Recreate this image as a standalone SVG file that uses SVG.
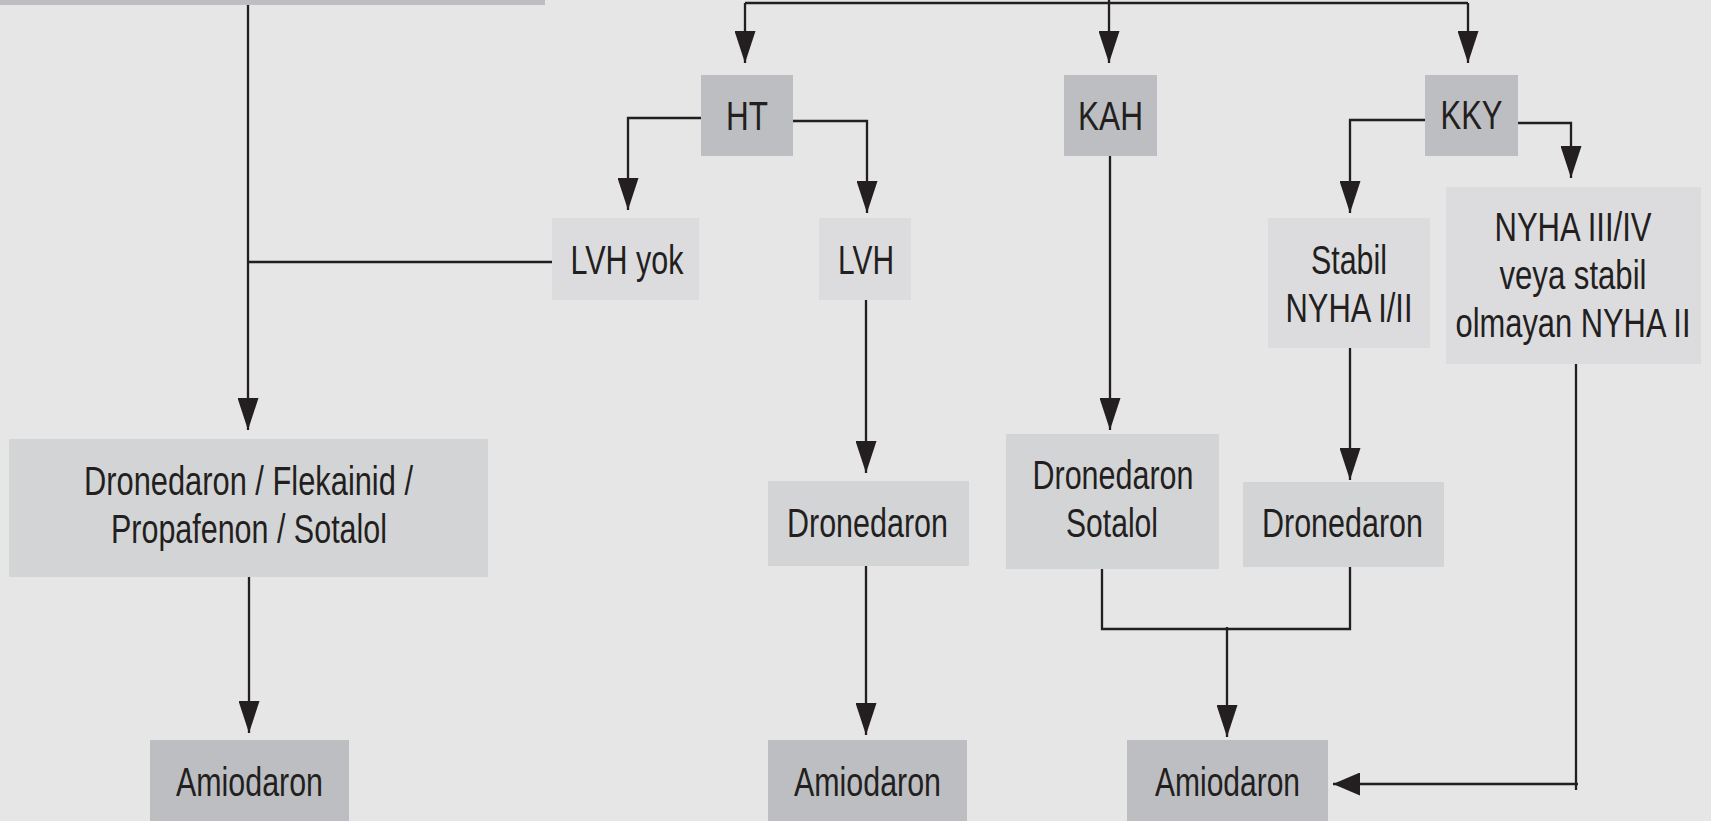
<svg xmlns="http://www.w3.org/2000/svg" width="1711" height="821" viewBox="0 0 1711 821">
<defs>
<style>
.dk{fill:#bdbec1}
.lt{fill:#dcdcde}
.md{fill:#d3d4d6}
.t{font-family:"Liberation Sans Narrow","Liberation Sans",Arial,sans-serif;font-size:40px;fill:#231f20;text-anchor:middle}
.c{fill:none;stroke:#231f20;stroke-width:2.3}
.ar{marker-end:url(#a)}
</style>
<marker id="a" markerUnits="userSpaceOnUse" viewBox="0 0 32 21" markerWidth="32" markerHeight="21" refX="32" refY="10.5" orient="auto">
<path d="M0,0 L32,10.5 L0,21 Z" fill="#231f20"/>
</marker>
<marker id="b" markerUnits="userSpaceOnUse" viewBox="0 0 27 23" markerWidth="27" markerHeight="23" refX="27" refY="11.5" orient="auto">
<path d="M0,0 L27,11.5 L0,23 Z" fill="#231f20"/>
</marker>
</defs>
<rect width="1711" height="821" fill="#e6e6e6"/>
<g id="connectors">
<path class="c ar" d="M248,5 V430"/>
<path class="c" d="M552,262 H248"/>
<path class="c" d="M745,3 H1468"/>
<path class="c ar" d="M745,3 V63"/>
<path class="c ar" d="M1109,0 V63"/>
<path class="c ar" d="M1468,3 V63"/>
<path class="c ar" d="M701,118 H628 V210"/>
<path class="c ar" d="M791,121 H867 V213"/>
<path class="c ar" d="M866,300 V473"/>
<path class="c ar" d="M866,566 V735"/>
<path class="c ar" d="M1110,156 V430"/>
<path class="c ar" d="M1425,120 H1350 V213"/>
<path class="c ar" d="M1518,123 H1571 V178"/>
<path class="c ar" d="M1350,348 V480"/>
<path class="c" d="M1102,564 V629 H1350 V567"/>
<path class="c ar" d="M1227,627 V737"/>
<path class="c" d="M1576,364 V790"/>
<path class="c" style="marker-end:url(#b)" d="M1578,784 H1333"/>
<path class="c ar" d="M249,577 V733"/>
</g>
<g id="n-top"><rect class="dk" x="0" y="-10" width="545" height="15"/></g>
<g id="n-ht"><rect class="dk" x="701" y="75" width="92" height="81"/><text class="t" x="747" y="130" textLength="42" lengthAdjust="spacingAndGlyphs">HT</text></g>
<g id="n-kah"><rect class="dk" x="1064" y="75" width="93" height="81"/><text class="t" x="1110.5" y="130" textLength="65" lengthAdjust="spacingAndGlyphs">KAH</text></g>
<g id="n-kky"><rect class="dk" x="1425" y="75" width="93" height="81"/><text class="t" x="1471.5" y="129" textLength="62" lengthAdjust="spacingAndGlyphs">KKY</text></g>
<g id="n-lvhyok"><rect class="lt" x="552" y="218" width="147" height="82"/><text class="t" x="627" y="274" textLength="113" lengthAdjust="spacingAndGlyphs">LVH yok</text></g>
<g id="n-lvh"><rect class="lt" x="819" y="218" width="92" height="82"/><text class="t" x="866" y="274" textLength="56" lengthAdjust="spacingAndGlyphs">LVH</text></g>
<g id="n-stabil"><rect class="lt" x="1268" y="218" width="162" height="130"/><text class="t" x="1349" y="274" textLength="76" lengthAdjust="spacingAndGlyphs">Stabil</text><text class="t" x="1349" y="322" textLength="127" lengthAdjust="spacingAndGlyphs">NYHA I/II</text></g>
<g id="n-nyha"><rect class="lt" x="1446" y="187" width="255" height="177"/><text class="t" x="1573" y="241" textLength="157" lengthAdjust="spacingAndGlyphs">NYHA III/IV</text><text class="t" x="1573" y="289" textLength="147" lengthAdjust="spacingAndGlyphs">veya stabil</text><text class="t" x="1573" y="337" textLength="235" lengthAdjust="spacingAndGlyphs">olmayan NYHA II</text></g>
<g id="n-drug1"><rect class="md" x="9" y="439" width="479" height="138"/><text class="t" x="248.5" y="495" textLength="329" lengthAdjust="spacingAndGlyphs">Dronedaron / Flekainid /</text><text class="t" x="249" y="543" textLength="276" lengthAdjust="spacingAndGlyphs">Propafenon / Sotalol</text></g>
<g id="n-dron1"><rect class="md" x="768" y="481" width="201" height="85"/><text class="t" x="867.5" y="537" textLength="161" lengthAdjust="spacingAndGlyphs">Dronedaron</text></g>
<g id="n-dronsot"><rect class="md" x="1006" y="434" width="213" height="135"/><text class="t" x="1113" y="489" textLength="161" lengthAdjust="spacingAndGlyphs">Dronedaron</text><text class="t" x="1112" y="537" textLength="92" lengthAdjust="spacingAndGlyphs">Sotalol</text></g>
<g id="n-dron2"><rect class="md" x="1243" y="482" width="201" height="85"/><text class="t" x="1342.5" y="537" textLength="161" lengthAdjust="spacingAndGlyphs">Dronedaron</text></g>
<g id="n-amio1"><rect class="dk" x="150" y="740" width="199" height="90"/><text class="t" x="249.5" y="796" textLength="147" lengthAdjust="spacingAndGlyphs">Amiodaron</text></g>
<g id="n-amio2"><rect class="dk" x="768" y="740" width="199" height="90"/><text class="t" x="867.5" y="796" textLength="147" lengthAdjust="spacingAndGlyphs">Amiodaron</text></g>
<g id="n-amio3"><rect class="dk" x="1127" y="740" width="201" height="90"/><text class="t" x="1227.5" y="796" textLength="145" lengthAdjust="spacingAndGlyphs">Amiodaron</text></g>
</svg>
